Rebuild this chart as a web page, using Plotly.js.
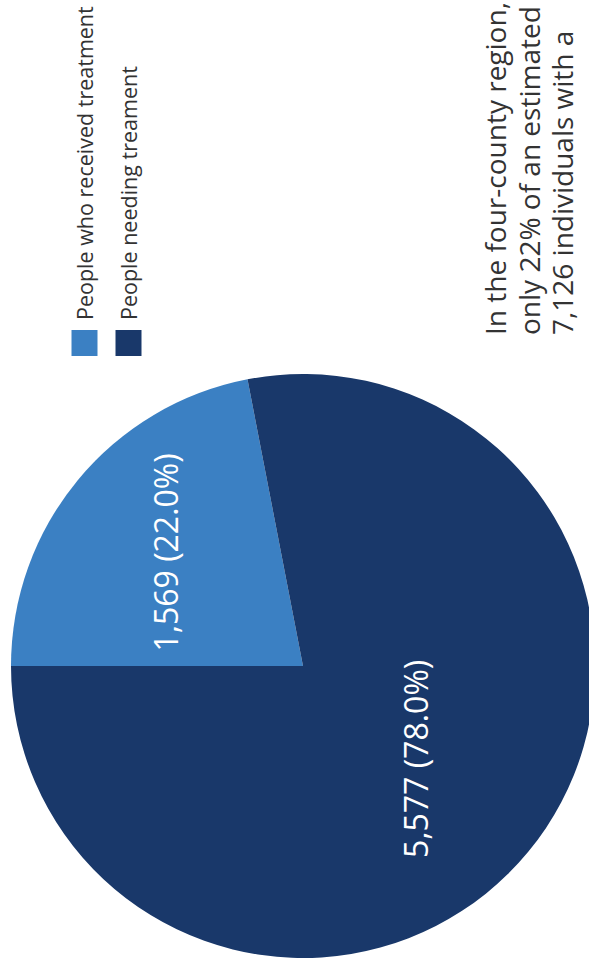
<!DOCTYPE html>
<html>
<head>
<meta charset="utf-8">
<script src="https://cdn.plot.ly/plotly-3.0.1.min.js"></script>
<style>
  html, body { margin: 0; padding: 0; width: 589px; height: 965px; overflow: hidden; background: #fff; }
  #wrap { position: absolute; left: 0; top: 0; width: 965px; height: 600px;
          transform-origin: 0 0; transform: translate(0px, 965px) rotate(-90deg); }
  #chart { width: 965px; height: 600px; }
</style>
</head>
<body>
<div id="wrap"><div id="chart"></div></div>
<script>
// ---- data ----
const categories = ["People who received treatment", "People needing treament"];
const values = [1569, 5577];
const sliceColors = ["#3b80c3", "#19386a"];
const paragraphLines = ["In the four-county region,", "only 22% of an estimated", "7,126 individuals with a"];

const FONT = "'Open Sans', Lato, sans-serif";

const pie = {
  type: "pie",
  labels: categories,
  values: values,
  sort: false,
  direction: "clockwise",
  rotation: 0,
  marker: { colors: sliceColors, line: { width: 0 } },
  texttemplate: "%{value:,} (%{percent:.1%})",
  textposition: "inside",
  insidetextorientation: "horizontal",
  textfont: { family: FONT, size: 32, color: "#ffffff" },
  hoverinfo: "none",
  showlegend: false,
  domain: { x: [7/965, 591/965], y: [5/600, 589/600] }
};

// legend built from categories / colors
const shapes = [];
const annotations = [];
const legY = [84.5, 128.5]; // px from top (original frame)
categories.forEach((c, i) => {
  const yc = 1 - legY[i] / 600;
  const half = 13 / 600;
  shapes.push({ type: "rect", xref: "paper", yref: "paper",
    x0: 609/965, x1: 635/965, y0: yc - half, y1: yc + half,
    fillcolor: sliceColors[i], line: { width: 0 } });
  annotations.push({ xref: "paper", yref: "paper", x: 643/965, y: yc,
    xanchor: "left", yanchor: "middle", showarrow: false, text: c,
    font: { family: FONT, size: 21.5, color: "#333333" } });
});
const paraTop = [474, 508, 541]; // px
paragraphLines.forEach((t, i) => {
  annotations.push({ xref: "paper", yref: "paper", x: 628/965, y: 1 - paraTop[i] / 600,
    xanchor: "left", yanchor: "top", showarrow: false, text: t,
    font: { family: FONT, size: 28, color: "#333333" } });
});

const layout = {
  width: 965, height: 600,
  margin: { l: 0, r: 0, t: 0, b: 0 },
  paper_bgcolor: "#ffffff",
  showlegend: false,
  uniformtext: { mode: "show", minsize: 32 },
  shapes: shapes,
  annotations: annotations
};
Plotly.newPlot("chart", [pie], layout, { displayModeBar: false, staticPlot: true });
</script>
</body>
</html>
